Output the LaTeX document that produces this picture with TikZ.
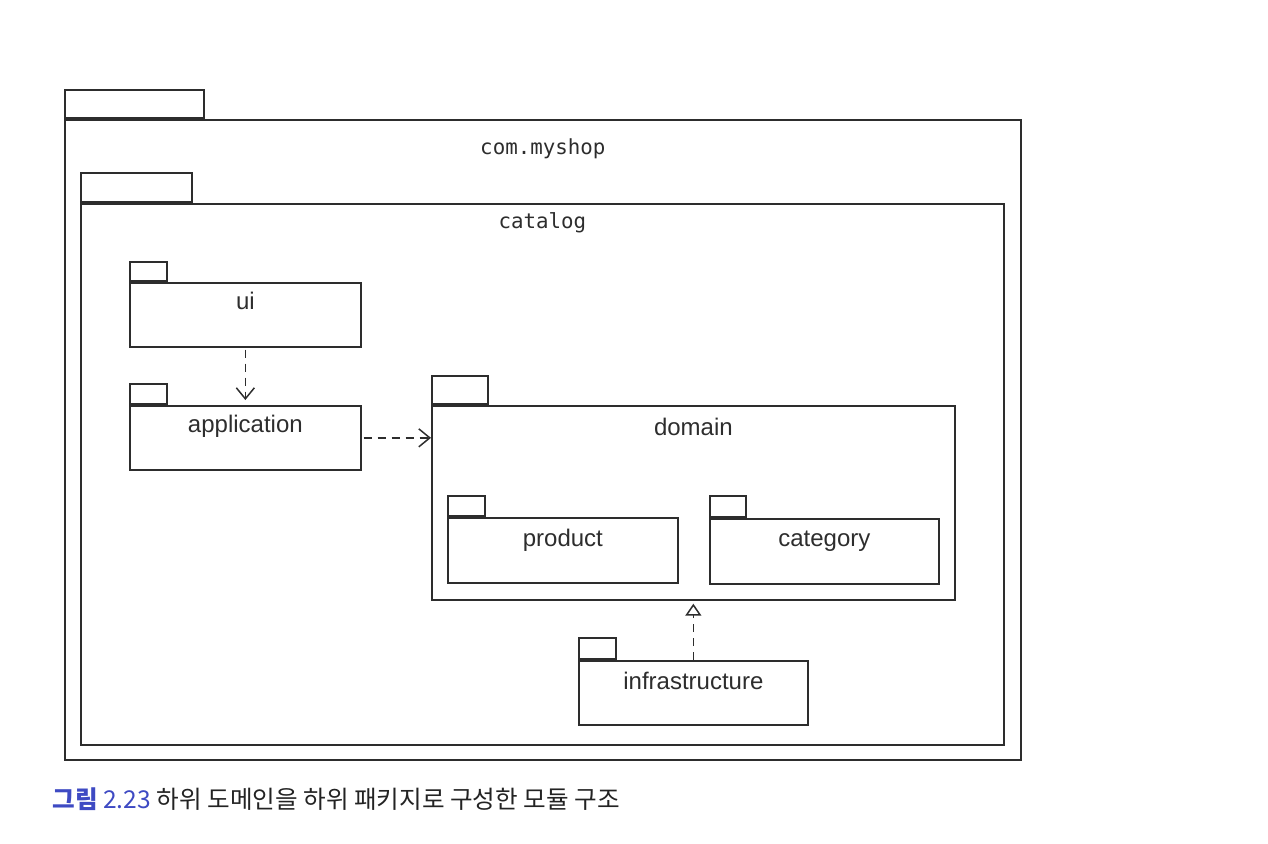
\documentclass[tikz,border=0pt]{standalone}
\usepackage{fontspec}
\usepackage{xcolor}
\usetikzlibrary{
    arrows.meta,
    positioning,
    calc
}
\newfontfamily\pkgsans{Liberation Sans}
\newfontfamily\pkgmono{DejaVu Sans Mono}
\newfontfamily\cjk{Noto Sans CJK KR}
\definecolor{pkgline}{RGB}{45, 45, 45}
\definecolor{captionblue}{RGB}{62, 74, 195}
\definecolor{captiontext}{RGB}{35, 35, 35}

\begin{document}
\begin{tikzpicture}[
        x=0.5pt, y=-0.5pt,
        pkg/.style={draw=pkgline, line width=0.85pt, inner sep=0pt, anchor=north west},
        pkgtab/.style={draw=pkgline, line width=0.85pt, inner sep=0pt, anchor=south west},
        pkgname/.style={anchor=base, inner sep=0pt, font=\pkgsans\fontsize{12}{14}\selectfont, text=pkgline},
        rootname/.style={anchor=base, inner sep=0pt, font=\pkgmono\fontsize{10.4}{12}\selectfont, text=pkgline},
        dep/.style={draw=pkgline, line width=0.75pt, dash pattern=on 4pt off 3pt, -{Straight Barb[length=5.5pt, width=9pt]}},
        impl/.style={draw=pkgline, line width=0.75pt, dash pattern=on 4pt off 3pt, -{Triangle[open, length=6pt, width=8pt]}}
    ]
        \useasboundingbox (0, 0) rectangle (1268, 844);

        % Outer packages
        \node[pkg, minimum width=478pt, minimum height=320pt] (myshop) at (64, 119) {};
        \node[pkgtab, minimum width=69.5pt, minimum height=14pt] (myshop tab) at (myshop.north west) {};
        \node[rootname] at ([yshift=-18pt]myshop.north) {com.myshop};

        \node[pkg, minimum width=461.5pt, minimum height=270.5pt] (catalog) at (80, 203) {};
        \node[pkgtab, minimum width=55.5pt, minimum height=14.5pt] (catalog tab) at (catalog.north west) {};
        \node[rootname] at ([yshift=-13pt]catalog.north) {catalog};

        % Left column
        \node[pkg, minimum width=115.5pt, minimum height=32pt] (ui) at (129, 282) {};
        \node[pkgtab, minimum width=18.5pt, minimum height=9.5pt] (ui tab) at (ui.north west) {};
        \node[pkgname] at ([yshift=-14pt]ui.north) {ui};

        \node[pkg, minimum width=115.5pt, minimum height=32pt] (app) at (129, 405) {};
        \node[pkgtab, minimum width=18.5pt, minimum height=10pt] (app tab) at (app.north west) {};
        \node[pkgname] at ([yshift=-13.5pt]app.north) {application};

        % Domain
        \node[pkg, minimum width=261.5pt, minimum height=97pt] (domain) at (431, 405) {};
        \node[pkgtab, minimum width=28pt, minimum height=14pt] (domain tab) at (domain.north west) {};
        \node[pkgname] at ([yshift=-15pt]domain.north) {domain};

        \node[pkg, minimum width=115pt, minimum height=32.5pt] (product) at (447, 517) {};
        \node[pkgtab, minimum width=18.5pt, minimum height=10pt] (product tab) at (product.north west) {};
        \node[pkgname] at ([yshift=-14.5pt]product.north) {product};

        \node[pkg, minimum width=114.5pt, minimum height=32.5pt] (category) at (709, 518) {};
        \node[pkgtab, minimum width=18pt, minimum height=10.5pt] (category tab) at (category.north west) {};
        \node[pkgname] at ([yshift=-14pt]category.north) {category};

        % Infrastructure
        \node[pkg, minimum width=114.5pt, minimum height=32pt] (infra) at (578, 660) {};
        \node[pkgtab, minimum width=18.5pt, minimum height=10.5pt] (infra tab) at (infra.north west) {};
        \node[pkgname] at ([yshift=-14.5pt]infra.north) {infrastructure};

        % Dependencies
        \draw[dep, shorten <=1pt, shorten >=2.5pt] (ui.south) -- (app.north);
        \draw[dep, shorten <=1pt] (app.east) -- (app.east -| domain.west);
        \draw[impl, shorten >=1.5pt] (infra.north) -- (domain.south);

        % Caption
        \node[anchor=base west, inner sep=0pt, font=\cjk\fontsize{12.3}{14}\selectfont, text=captiontext] (caption) at (52, 808) {\textcolor{captionblue}{\bfseries 그림 \mdseries 2.23} 하위 도메인을 하위 패키지로 구성한 모듈 구조};
    \end{tikzpicture}
\end{document}
